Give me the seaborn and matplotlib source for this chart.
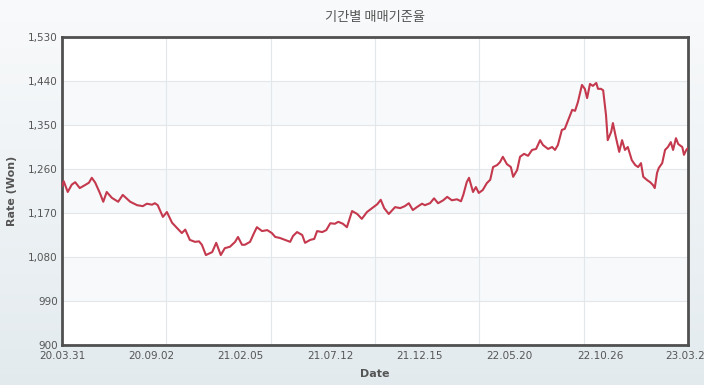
import numpy as np
import pandas as pd
import matplotlib
matplotlib.use("Agg")
import matplotlib.pyplot as plt
import matplotlib.dates as mdates
from matplotlib.ticker import FuncFormatter
import seaborn as sns

title = "기간별 매매기준율"
x_label = "Date"
y_label = "Rate (Won)"

dates = [
    "2020-03-31", "2020-04-03", "2020-04-10", "2020-04-17", "2020-04-23", "2020-05-01", "2020-05-10",
    "2020-05-17", "2020-05-22", "2020-05-28", "2020-06-05", "2020-06-11", "2020-06-17", "2020-06-26",
    "2020-07-07", "2020-07-15", "2020-07-28", "2020-08-09", "2020-08-19", "2020-08-26", "2020-09-04",
    "2020-09-09", "2020-09-14", "2020-09-23", "2020-09-30", "2020-10-09", "2020-10-18", "2020-10-26",
    "2020-11-01", "2020-11-09", "2020-11-18", "2020-11-25", "2020-11-30", "2020-12-07", "2020-12-18",
    "2020-12-25", "2021-01-02", "2021-01-09", "2021-01-18", "2021-01-27", "2021-02-01", "2021-02-08",
    "2021-02-13", "2021-02-22", "2021-03-01", "2021-03-06", "2021-03-15", "2021-03-24", "2021-04-01",
    "2021-04-07", "2021-04-15", "2021-04-24", "2021-05-03", "2021-05-08", "2021-05-15", "2021-05-24",
    "2021-05-29", "2021-06-07", "2021-06-14", "2021-06-19", "2021-06-28", "2021-07-05", "2021-07-12",
    "2021-07-20", "2021-07-26", "2021-08-03", "2021-08-10", "2021-08-19", "2021-08-28", "2021-09-05",
    "2021-09-14", "2021-09-23", "2021-10-02", "2021-10-08", "2021-10-14", "2021-10-22", "2021-11-02",
    "2021-11-11", "2021-11-19", "2021-11-26", "2021-12-03", "2021-12-10", "2021-12-19", "2021-12-24",
    "2022-01-02", "2022-01-09", "2022-01-16", "2022-01-25", "2022-02-01", "2022-02-09", "2022-02-18",
    "2022-02-25", "2022-03-01", "2022-03-07", "2022-03-11", "2022-03-18", "2022-03-23", "2022-03-28",
    "2022-04-04", "2022-04-11", "2022-04-17", "2022-04-22", "2022-04-29", "2022-05-04", "2022-05-09",
    "2022-05-16", "2022-05-23", "2022-05-27", "2022-06-03", "2022-06-08", "2022-06-15", "2022-06-22",
    "2022-06-29", "2022-07-06", "2022-07-13", "2022-07-18", "2022-07-27", "2022-08-03", "2022-08-08",
    "2022-08-13", "2022-08-20", "2022-08-25", "2022-08-31", "2022-09-07", "2022-09-12", "2022-09-17",
    "2022-09-24", "2022-09-29", "2022-10-03", "2022-10-08", "2022-10-13", "2022-10-19", "2022-10-22",
    "2022-10-27", "2022-10-31", "2022-11-05", "2022-11-08", "2022-11-14", "2022-11-17", "2022-11-22",
    "2022-11-28", "2022-12-03", "2022-12-08", "2022-12-13", "2022-12-20", "2022-12-26", "2022-12-31",
    "2023-01-05", "2023-01-09", "2023-01-16", "2023-01-21", "2023-01-26", "2023-01-29", "2023-02-02",
    "2023-02-05", "2023-02-11", "2023-02-16", "2023-02-21", "2023-02-26", "2023-03-02", "2023-03-07",
    "2023-03-11", "2023-03-18", "2023-03-21", "2023-03-25", "2023-03-28",
]
rates = [
    1225, 1235, 1213, 1228, 1233, 1221, 1227,
    1232, 1242, 1232, 1211, 1193, 1213, 1201,
    1193, 1207, 1193, 1186, 1184, 1189, 1187,
    1190, 1186, 1162, 1172, 1150, 1139, 1129,
    1136, 1115, 1111, 1112, 1105, 1084, 1090,
    1109, 1084, 1098, 1101, 1111, 1121, 1105,
    1105, 1111, 1129, 1141, 1133, 1135, 1129,
    1121, 1119, 1115, 1111, 1123, 1131, 1125,
    1109, 1115, 1117, 1133, 1131, 1135, 1149,
    1148, 1152, 1148, 1141, 1174, 1168, 1158,
    1172, 1180, 1188, 1197, 1180, 1168, 1182,
    1180, 1184, 1190, 1176, 1182, 1189, 1186,
    1190, 1200, 1190, 1196, 1203, 1196, 1198,
    1194, 1207, 1233, 1242, 1213, 1223, 1211,
    1217, 1231, 1238, 1264, 1268, 1274, 1285,
    1270, 1264, 1244, 1258, 1285, 1291, 1287,
    1299, 1301, 1319, 1309, 1301, 1305, 1299,
    1309, 1340, 1342, 1360, 1381, 1379, 1397,
    1432, 1424, 1405, 1434, 1430, 1436, 1424,
    1424, 1421, 1370, 1319, 1336, 1354, 1326,
    1295, 1319, 1299, 1305, 1278, 1268, 1264,
    1272, 1244, 1237, 1233, 1227, 1221, 1252,
    1262, 1272, 1299, 1305, 1315, 1299, 1323,
    1311, 1305, 1289, 1299, 1303,
]
tick_dates = ["2020-03-31", "2020-09-02", "2021-02-05", "2021-07-12",
              "2021-12-15", "2022-05-20", "2022-10-26", "2023-03-28"]
y_ticks = [900, 990, 1080, 1170, 1260, 1350, 1440, 1530]

df = pd.DataFrame({"date": pd.to_datetime(dates), "rate": rates})

sns.set_style("white")
plt.rcParams["font.family"] = ["DejaVu Sans", "Noto Sans CJK KR"]

fig = plt.figure(figsize=(7.04, 3.85), dpi=100)

# background gradient
bg = fig.add_axes([0, 0, 1, 1], zorder=-10)
grad = np.linspace(0, 1, 256).reshape(-1, 1)
top = np.array([0.975, 0.98, 0.985])
bot = np.array([0.89, 0.92, 0.935])
img = top[None, None, :] * (1 - grad[:, :, None]) + bot[None, None, :] * grad[:, :, None]
bg.imshow(img, aspect="auto", extent=[0, 1, 0, 1])
bg.axis("off")

ax = fig.add_axes([62 / 704, 1 - 345 / 385, 626 / 704, 308 / 385])
ax.set_facecolor("white")

x0 = pd.Timestamp(dates[0])
x1 = pd.Timestamp(dates[-1])

# alternating bands
for i in range(len(y_ticks) - 1):
    if i % 2 == 1:
        ax.axhspan(y_ticks[i], y_ticks[i + 1], color="#f7f9fb", zorder=0, lw=0)
for yv in y_ticks:
    ax.axhline(yv, color="#e4e7ea", lw=0.8, zorder=1)
for k in range(1, 6):
    ax.axvline(x0 + (x1 - x0) * k / 6, color="#e4e7ea", lw=0.8, zorder=1)

sns.lineplot(data=df, x="date", y="rate", ax=ax, color="#c4394d", lw=1.5, zorder=3)

ax.set_xlim(x0, x1)
ax.set_ylim(900, 1530)
ax.set_yticks(y_ticks)
ax.yaxis.set_major_formatter(FuncFormatter(lambda v, p: f"{int(v):,}"))
ax.set_xticks(pd.to_datetime(tick_dates))
ax.xaxis.set_major_formatter(mdates.DateFormatter("%y.%m.%d"))
ax.tick_params(axis="both", length=0, labelsize=7.5, colors="#555555")
ax.tick_params(axis="y", pad=3)
ax.tick_params(axis="x", pad=4)
ax.grid(False)

for s in ax.spines.values():
    s.set_color("#505050")
    s.set_linewidth(2)
    s.set_visible(True)

ax.set_xlabel(x_label, fontsize=8, fontweight="bold", color="#555555", labelpad=6)
ax.set_ylabel(y_label, fontsize=8, fontweight="bold", color="#555555", labelpad=8)

fig.text(375 / 704, 1 - 17 / 385, title, ha="center", va="center", fontsize=9.5,
         color="#555555", family=["Noto Sans CJK KR", "DejaVu Sans"])

fig.savefig("out.png", dpi=100)
